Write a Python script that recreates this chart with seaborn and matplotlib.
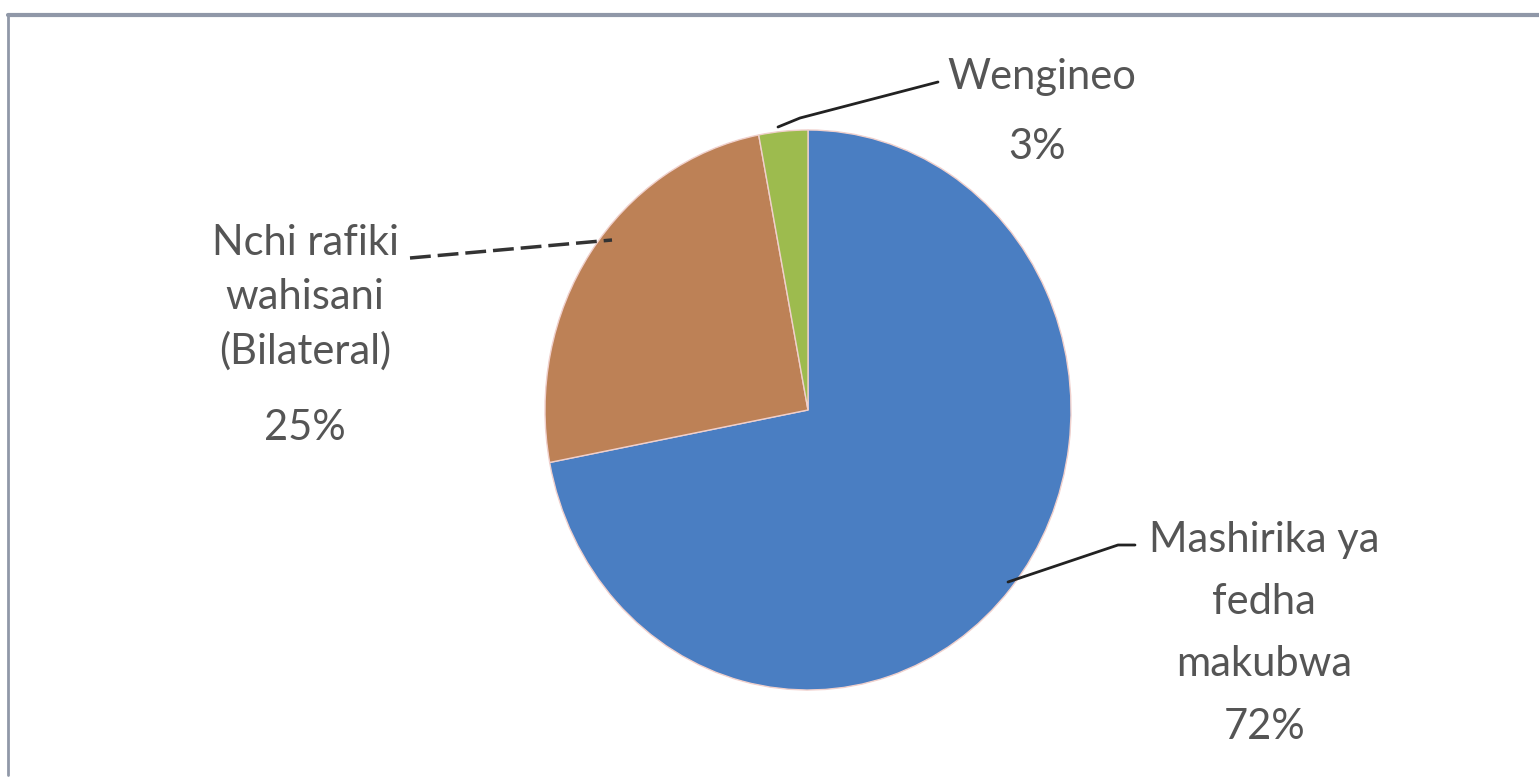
import matplotlib
matplotlib.use("Agg")
import matplotlib.pyplot as plt
import seaborn as sns

# data
categories = ["Mashirika ya\nfedha\nmakubwa", "Nchi rafiki\nwahisani\n(Bilateral)", "Wengineo"]
shares = [72, 25, 3]
colors = ["#4A7EC2", "#BD8156", "#9DBB4E"]

sns.set_theme(style="white")
plt.rcParams["font.family"] = ["Lato", "DejaVu Sans"]

W, H = 1539, 783
fig = plt.figure(figsize=(W / 100, H / 100), dpi=100)
fig.patch.set_facecolor("white")

# axes in pixel units; y squeezed a bit so the pie looks like the slightly tall original
rx, ry = 263, 280
sy = rx / ry
ax = fig.add_axes([0, 0, 1, 1])

cx, cy = 808, 410
center = (cx, (H - cy) * sy)
wedges, _ = ax.pie(shares, colors=colors, startangle=90, counterclock=False,
                   radius=rx, center=center, frame=True,
                   wedgeprops=dict(linewidth=1.0, edgecolor="#F0D0CC"))
ax.set_xlim(0, W)
ax.set_ylim(0, H * sy)
ax.set_aspect("auto")
ax.axis("off")

def px(x, y):
    return x, (H - y) * sy

txt = dict(color="#555555", fontsize=30, ha="center", va="center")

# Wengineo
ax.plot(*zip(px(778, 127), px(800, 118), px(938, 82)), color="#222222", lw=2)
ax.text(*px(1042, 77), categories[2], **txt)
ax.text(*px(1037, 147), f"{shares[2]}%", **txt)

# Nchi rafiki
ax.plot(*zip(px(410, 258), px(612, 240)), color="#333333", lw=2.5, ls=(0, (6, 2)))
for i, line in enumerate(categories[1].split("\n")):
    ax.text(*px(305, 243 + 54 * i), line, **txt)
ax.text(*px(305, 428), f"{shares[1]}%", **txt)

# Mashirika
ax.plot(*zip(px(1008, 582), px(1118, 545), px(1135, 545)), color="#222222", lw=2)
for i, line in enumerate(categories[0].split("\n")):
    ax.text(*px(1264, 540 + 62 * i), line, **txt)
ax.text(*px(1265, 727), f"{shares[0]}%", **txt)

# chart frame
fig.add_artist(plt.Line2D([8 / W, 1], [1 - 15 / H, 1 - 15 / H], color="#9098A8", lw=3))
fig.add_artist(plt.Line2D([8 / W, 8 / W], [1 - 15 / H, 8 / H], color="#9098A8", lw=2))

fig.savefig("out.png", dpi=100, facecolor="white")
